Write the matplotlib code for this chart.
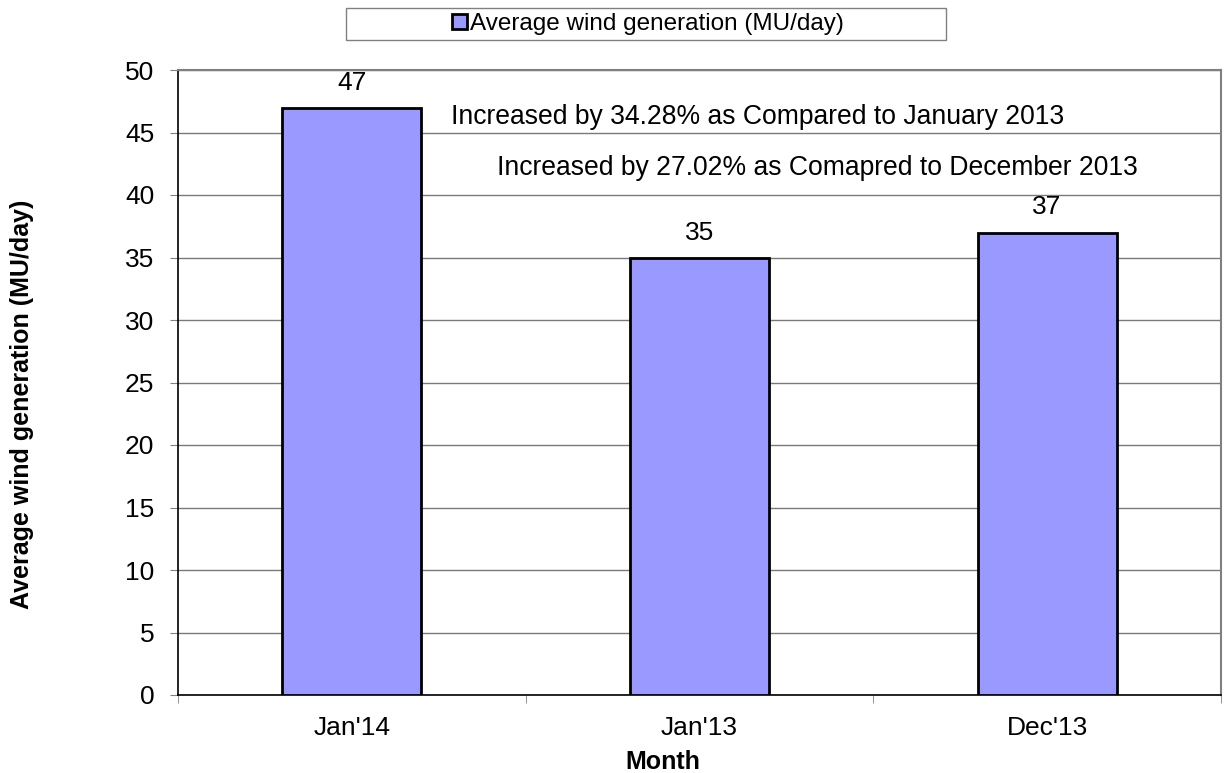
import matplotlib.pyplot as plt
from matplotlib.patches import Rectangle

plt.rcParams['font.family'] = ['Liberation Sans', 'DejaVu Sans']

months = ["Jan'14", "Jan'13", "Dec'13"]
wind_gen = [47, 35, 37]
notes = ["Increased by 34.28% as Compared to January 2013",
         "Increased by 27.02% as Comapred to December 2013"]
series_name = "Average wind generation (MU/day)"

fig = plt.figure(figsize=(12.24, 7.73), dpi=100)
ax = fig.add_axes([178/1224, 1-695/773, 1043/1224, 625/773])

x = range(len(months))
bars = ax.bar(x, wind_gen, width=0.4, color='#9999FF', edgecolor='black',
              linewidth=2, label=series_name, zorder=3)

for b, v in zip(bars, wind_gen):
    ax.annotate(str(v), (b.get_x() + b.get_width()/2, v), xytext=(0, 18),
                textcoords='offset points', ha='center', va='center', fontsize=19)

ax.set_xlim(-0.5, 2.5)
ax.set_ylim(0, 50)
ax.set_yticks(range(0, 51, 5))
ax.set_xticks(list(x))
ax.set_xticklabels(months)
ax.set_xticks([-0.5, 0.5, 1.5, 2.5], minor=True)
ax.tick_params(axis='x', which='major', length=0, pad=15, labelsize=19)
ax.tick_params(axis='x', which='minor', length=6, color='#808080', direction='out')
ax.tick_params(axis='y', length=6, color='#808080', pad=11, labelsize=19)

ax.grid(axis='y', color='#7a7a7a', linewidth=1, zorder=0)
ax.spines['left'].set_color('black')
ax.spines['left'].set_linewidth(1.2)
ax.spines['bottom'].set_color('black')
ax.spines['bottom'].set_linewidth(1.2)
ax.spines['top'].set_color('#808080')
ax.spines['top'].set_linewidth(1.5)
ax.spines['right'].set_color('#808080')
ax.spines['right'].set_linewidth(1.5)

ax.text(0.2615, 46.25, notes[0], transform=ax.get_yaxis_transform(),
        ha='left', va='center', fontsize=19.1)
ax.text(0.3055, 42.15, notes[1], transform=ax.get_yaxis_transform(),
        ha='left', va='center', fontsize=19.1)

fig.text(22/1224, 1-404/773, series_name, rotation=90, ha='center', va='center',
         fontsize=18, fontweight='bold')
fig.text(663/1224, 1-762/773, 'Month', ha='center', va='center',
         fontsize=18, fontweight='bold')

# legend box at the top
fig.patches.append(Rectangle((346/1224, 1-40/773), 600/1224, 32/773,
                             transform=fig.transFigure, facecolor='white',
                             edgecolor='#808080', linewidth=1))
fig.legend(loc='center', bbox_to_anchor=(648/1224, 1-24/773), frameon=False,
           fontsize=17.5, handlelength=0.6, handleheight=0.6, handletextpad=0.15,
           borderpad=0)

fig.savefig('out.png', dpi=100)
